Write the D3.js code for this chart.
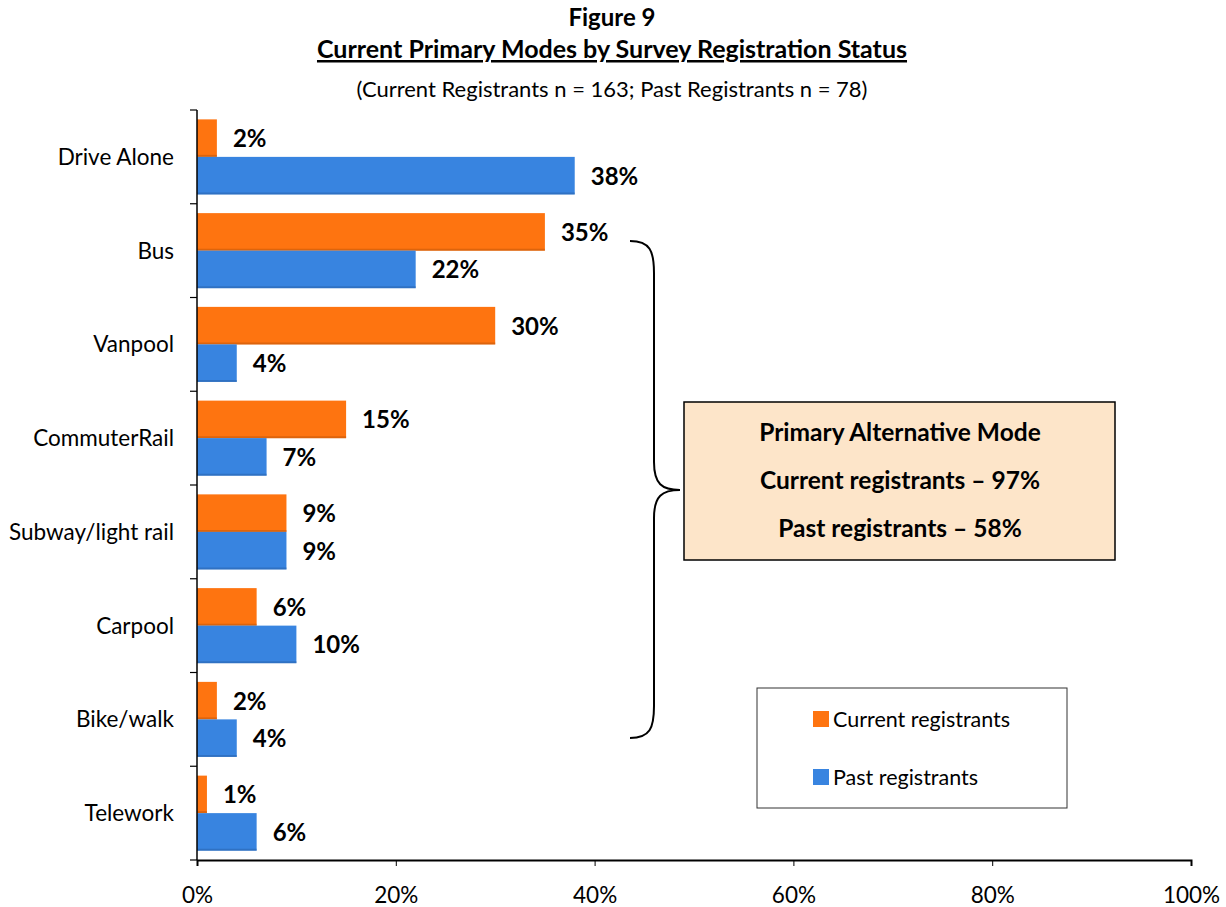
<!DOCTYPE html>
<html>
<head>
<meta charset="utf-8">
<script src="https://cdn.jsdelivr.net/npm/d3@7"></script>
<style>
  body { margin: 0; background: #fff; }
  svg { font-family: Lato, "Open Sans", sans-serif; }
</style>
</head>
<body>
<div id="chart"></div>
<script>
var width = 1226,
    height = 907;

var modes = ["Drive Alone", "Bus", "Vanpool", "CommuterRail", "Subway/light rail", "Carpool", "Bike/walk", "Telework"];
var current = [2, 35, 30, 15, 9, 6, 2, 1];
var past = [38, 22, 4, 7, 9, 10, 4, 6];
var seriesNames = ["Current registrants", "Past registrants"];
var xTicks = [0, 20, 40, 60, 80, 100];
var boxLines = ["Primary Alternative Mode", "Current registrants \u2013 97%", "Past registrants \u2013 58%"];

var colors = ["#fe7410", "#3884e0"];
var darker = ["#c85a0a", "#2a66b0"];

var svg = d3.select("#chart")
    .append("svg")
    .attr("width", width)
    .attr("height", height);

var x = d3.scaleLinear().domain([0, 100]).range([197, 1191]);
var y = d3.scaleBand().domain(modes).range([110, 860]).paddingInner(0.2).paddingOuter(0.1);
var sub = d3.scaleBand().domain([0, 1]).range([0, y.bandwidth()]);

// titles
svg.append("text").attr("x", 612).attr("y", 26).attr("text-anchor", "middle")
    .style("font-weight", "bold").style("font-size", "24px").text("Figure 9");
svg.append("text").attr("x", 612).attr("y", 58).attr("text-anchor", "middle")
    .style("font-weight", "bold").style("font-size", "25px")
    .style("text-decoration", "underline")
    .text("Current Primary Modes by Survey Registration Status");
svg.append("text").attr("x", 612).attr("y", 97).attr("text-anchor", "middle")
    .style("font-size", "22px")
    .text("(Current Registrants n = 163; Past Registrants n = 78)");

// bars
var groups = svg.selectAll(".mode")
    .data(modes)
    .enter().append("g")
    .attr("class", "mode")
    .attr("transform", function(d) { return "translate(0," + y(d) + ")"; });

[current, past].forEach(function(vals, s) {
  groups.append("rect")
    .attr("x", x(0))
    .attr("y", sub(s))
    .attr("width", function(d, i) { return x(vals[i]) - x(0); })
    .attr("height", sub.bandwidth())
    .attr("fill", colors[s]);
  groups.append("line")
    .attr("x1", x(0))
    .attr("x2", function(d, i) { return x(vals[i]); })
    .attr("y1", sub(s) + sub.bandwidth() - 1)
    .attr("y2", sub(s) + sub.bandwidth() - 1)
    .attr("stroke", darker[s]).attr("stroke-width", 2).attr("opacity", 0.6);
  groups.append("text")
    .attr("x", function(d, i) { return x(vals[i]) + 16; })
    .attr("y", sub(s) + sub.bandwidth() / 2 + 9)
    .style("font-weight", "bold").style("font-size", "24px")
    .text(function(d, i) { return vals[i] + "%"; });
});

// y axis
var yAxis = svg.append("g").attr("transform", "translate(" + x(0) + ",0)");
yAxis.append("line").attr("x1", 0).attr("x2", 0).attr("y1", 110).attr("y2", 860)
    .attr("stroke", "#000").attr("stroke-width", 1.5);
var yTickPos = modes.map(function(d) { return y(d) - y.step() * y.paddingInner() / 2; }).concat([860]);
yAxis.selectAll(".yt").data(yTickPos).enter().append("line")
    .attr("x1", -7).attr("x2", 0).attr("y1", function(d) { return d; }).attr("y2", function(d) { return d; })
    .attr("stroke", "#000").attr("stroke-width", 1.2);
yAxis.selectAll(".yl").data(modes).enter().append("text")
    .attr("x", -23)
    .attr("y", function(d) { return y(d) + y.bandwidth() / 2 + 8; })
    .attr("text-anchor", "end")
    .style("font-size", "22.5px")
    .text(function(d) { return d; });

// x axis
var xAxis = svg.append("g").attr("transform", "translate(0,860)")
    .call(d3.axisBottom(x).tickValues(xTicks).tickSize(6).tickFormat(function(d) { return d + "%"; }));
xAxis.select(".domain").attr("stroke-width", 2);
xAxis.selectAll("text").style("font-size", "22.5px").style("font-family", "Lato, sans-serif")
    .attr("fill", "#000").attr("y", 20).attr("dy", "1em");

// brace
var bx = 630, by1 = 241, by2 = 738, tipX = 680, tipY = 490, vx = 654, r = 22;
var brace = "M" + bx + "," + by1 +
  " C" + (vx - 4) + "," + by1 + " " + vx + "," + (by1 + 10) + " " + vx + "," + (by1 + r + 10) +
  " L" + vx + "," + (tipY - r - 6) +
  " C" + vx + "," + (tipY - 6) + " " + (vx + 8) + "," + tipY + " " + tipX + "," + tipY +
  " C" + (vx + 8) + "," + tipY + " " + vx + "," + (tipY + 6) + " " + vx + "," + (tipY + r + 6) +
  " L" + vx + "," + (by2 - r - 10) +
  " C" + vx + "," + (by2 - 10) + " " + (vx - 4) + "," + by2 + " " + bx + "," + by2;
svg.append("path").attr("d", brace).attr("fill", "none").attr("stroke", "#000").attr("stroke-width", 2);

// annotation box
svg.append("rect").attr("x", 684).attr("y", 402).attr("width", 431).attr("height", 158)
    .attr("fill", "#fde5c9").attr("stroke", "#000").attr("stroke-width", 1.5);
svg.selectAll(".bl").data(boxLines).enter().append("text")
    .attr("x", 900)
    .attr("y", function(d, i) { return 441 + i * 48; })
    .attr("text-anchor", "middle")
    .style("font-weight", "bold").style("font-size", "24.5px")
    .text(function(d) { return d; });

// legend
svg.append("rect").attr("x", 757).attr("y", 688).attr("width", 310).attr("height", 120)
    .attr("fill", "#fff").attr("stroke", "#333").attr("stroke-width", 1);
var legend = svg.selectAll(".legend").data(seriesNames).enter().append("g")
    .attr("class", "legend")
    .attr("transform", function(d, i) { return "translate(813," + (711 + i * 58) + ")"; });
legend.append("rect").attr("width", 16).attr("height", 16)
    .attr("fill", function(d, i) { return colors[i]; });
legend.append("text").attr("x", 20).attr("y", 16).style("font-size", "21.5px")
    .text(function(d) { return d; });
</script>
</body>
</html>
